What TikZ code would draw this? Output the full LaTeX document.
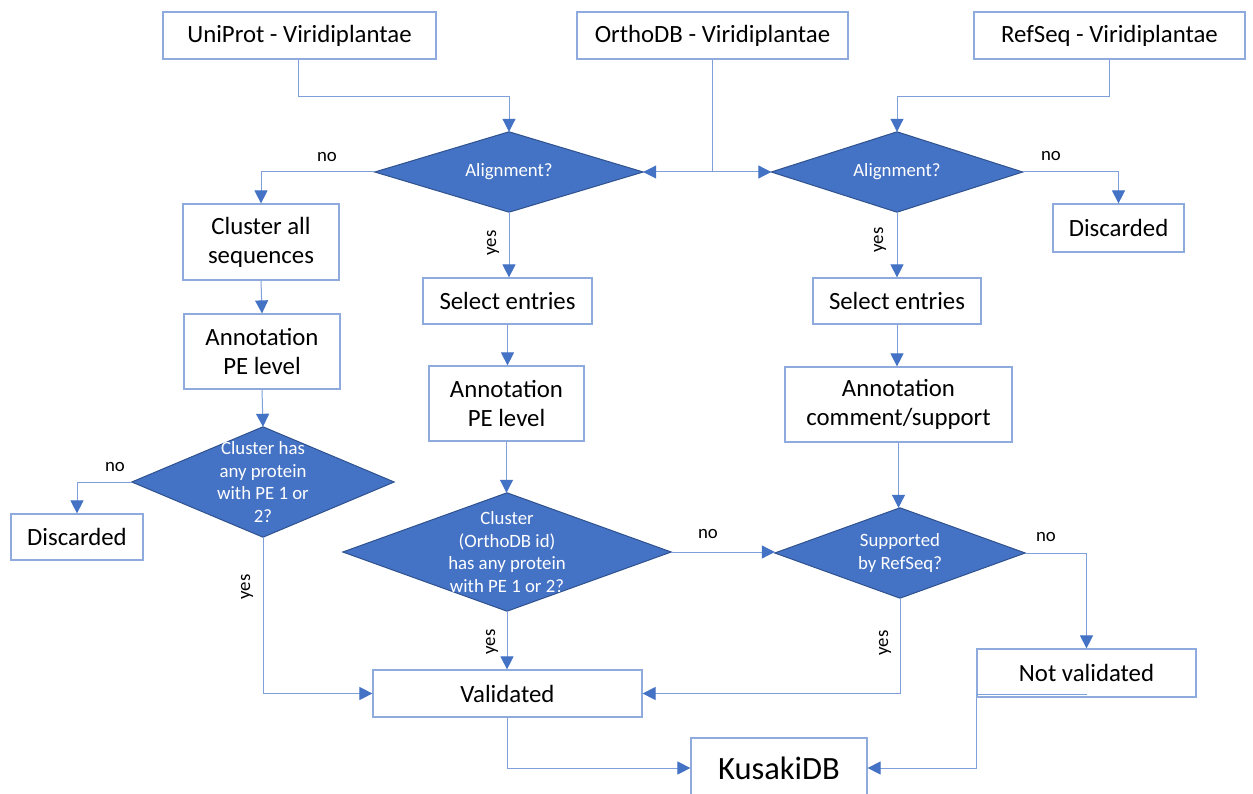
\documentclass[tikz,border=0pt]{standalone}
\usepackage{fontspec}
\setmainfont{Carlito}
\usetikzlibrary{arrows.meta,calc,backgrounds}
\definecolor{fillb}{HTML}{4472C4}
\definecolor{edgeb}{HTML}{2F528F}
\definecolor{lineb}{HTML}{7F9FDB}
\definecolor{boxb}{HTML}{8FAADC}
\begin{document}
\begin{tikzpicture}[x=1pt,y=-1pt,
  box/.style={draw=boxb,line width=1.2pt,fill=white,align=center,inner sep=0pt,font=\fontsize{24.8}{29}\selectfont},
  dnode/.style={draw=none,align=center,inner sep=0pt,text=white,font=\fontsize{18.8}{22.7}\selectfont},
  dshape/.style={fill=fillb,draw=edgeb,line width=1pt},
  conn/.style={draw=lineb,line width=1pt},
  arr/.style={conn,-{Triangle[length=13pt,width=13pt,color=fillb]}},
  lbl/.style={font=\fontsize{18.8}{22}\selectfont,inner sep=0pt}
]
\clip (0,0) rectangle (1253,794);

% boxes
\node[box,minimum width=273pt,minimum height=47pt] (up) at (299.5,35.5) {UniProt - Viridiplantae};
\node[box,minimum width=271pt,minimum height=47pt] (od) at (712.5,35.5) {OrthoDB - Viridiplantae};
\node[box,minimum width=271pt,minimum height=47pt] (rs) at (1109.5,35.5) {RefSeq - Viridiplantae};
\node[box,minimum width=131pt,minimum height=48pt] (dis2) at (1118.5,228) {Discarded};
\node[box,minimum width=156pt,minimum height=76pt] (ca) at (261,242) {Cluster all\\sequences};
\node[box,minimum width=169pt,minimum height=46pt] (se1) at (507.5,301) {Select entries};
\node[box,minimum width=168pt,minimum height=46pt] (se2) at (897,301) {Select entries};
\node[box,minimum width=156pt,minimum height=75pt] (an1) at (262,351.5) {Annotation\\PE level};
\node[box,minimum width=155pt,minimum height=75pt] (an2) at (506.5,403.5) {Annotation\\PE level};
\node[box,minimum width=227pt,minimum height=75pt] (an3) at (898.5,404.5) {Annotation\\comment/support};
\node[box,minimum width=132pt,minimum height=46pt] (dis1) at (77,537) {Discarded};
\node[box,minimum width=269pt,minimum height=47pt] (val) at (507.5,693.5) {Validated};
\node[box,minimum width=219pt,minimum height=48pt] (nv) at (1086.5,673) {Not validated};
\node[box,minimum width=176pt,minimum height=60pt,font=\fontsize{32.5}{38}\selectfont] (kdb) at (779,768) {KusakiDB};

% decisions
\node[dnode,minimum width=268pt,minimum height=80pt] (d1) at (509,172) {Alignment?};
\node[dnode,minimum width=251pt,minimum height=80pt] (d2) at (897,172) {Alignment?};
\node[dnode,minimum width=262pt,minimum height=110pt] (d3) at (263,482) {Cluster has\\any protein\\with PE 1 or\\2?};
\node[dnode,minimum width=328pt,minimum height=118pt] (d4) at (507,552) {Cluster\\(OrthoDB id)\\has any protein\\with PE 1 or 2?};
\node[dnode,minimum width=250pt,minimum height=90pt] (d5) at (900,553) {Supported\\by RefSeq?};
\begin{scope}[on background layer]
\fill[white] (0,0) rectangle (1253,794);
\foreach \d in {d1,d2,d3,d4,d5}
  \draw[dshape] (\d.north)--(\d.east)--(\d.south)--(\d.west)--cycle;
\end{scope}

% connectors
\draw[arr] (up.south -| 298,0) -- ++(0,37) -| (d1.north);
\draw[conn] (od.south) -- (od.south |- d1.east) coordinate (j);
\draw[arr] (j) -- (d1.east);
\draw[arr] (j) -- (d2.west);
\draw[arr] (rs.south) -- ++(0,37) -| (d2.north);
\draw[arr] (d1.west) -| (ca.north);
\draw[arr] (d1.south) -- (d1.south |- se1.north);
\draw[arr] (d2.east) -| (dis2.north);
\draw[arr] (d2.south) -- (se2.north);
\draw[arr] (ca.south) -- (an1.north);
\draw[arr] (an1.south) -- (d3.north);
\draw[arr] (d3.west) -| (dis1.north);
\draw[arr] (d3.south) |- (val.west);
\draw[arr] (se1.south) -- (se1.south |- an2.north);
\draw[arr] (an2.south) -- (an2.south |- d4.north);
\draw[arr] (d4.east) -- (d4.east -| d5.west);
\draw[arr] (d4.south) -- (d4.south |- val.north);
\draw[arr] (se2.south) -- (se2.south |- an3.north);
\draw[arr] (an3.south) -- (an3.south |- d5.north);
\draw[arr] (d5.east) -| (nv.north);
\draw[arr] (d5.south) |- (val.east);
\draw[arr] (val.south) |- (kdb.west);
\draw[arr] (nv.south west) |- (kdb.east);
\draw[conn] ([yshift=3pt]nv.south west) -- ([yshift=3pt]nv.south);

% labels
\node[lbl] (l1) at (327,157) {no};
\node[lbl,rotate=90] (l2) at (493,243) {yes};
\node[lbl] (l3) at (1051,156) {no};
\node[lbl,rotate=90] (l4) at (880,240) {yes};
\node[lbl] (l5) at (115,467) {no};
\node[lbl,rotate=90] (l6) at (247,587) {yes};
\node[lbl] (l7) at (708,534) {no};
\node[lbl,rotate=90] (l8) at (492,642) {yes};
\node[lbl] (l9) at (1046,537) {no};
\node[lbl,rotate=90] (l10) at (885,643) {yes};
\end{tikzpicture}
\end{document}
